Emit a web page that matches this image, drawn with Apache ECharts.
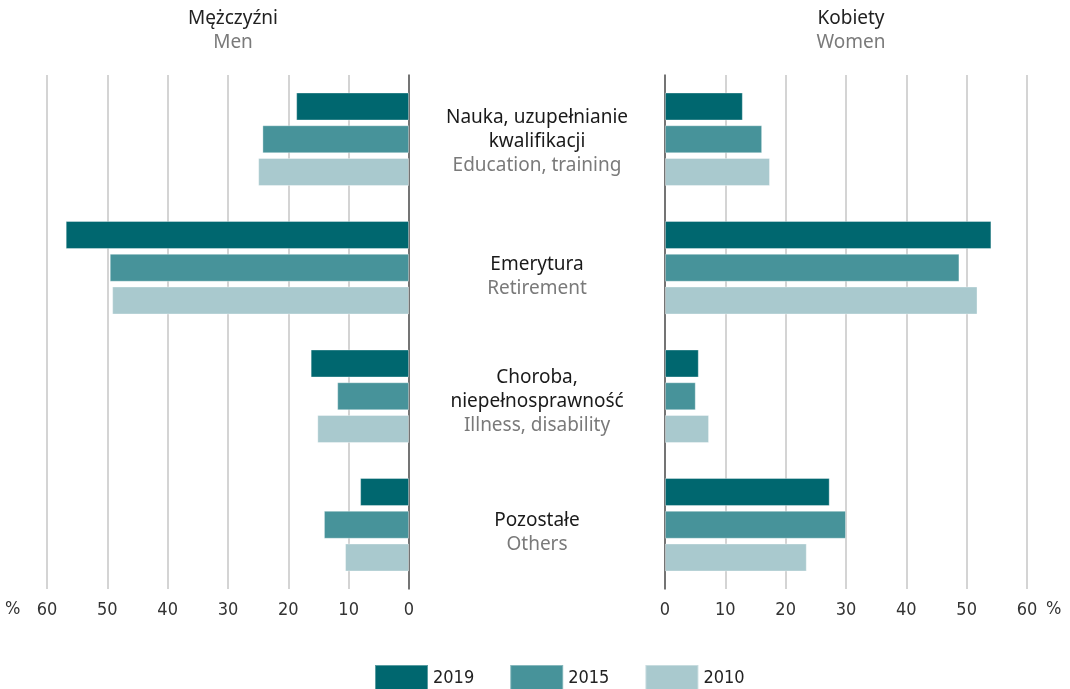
<!DOCTYPE html>
<html lang="pl">
<head>
    <meta charset="UTF-8">
    <title>Mężczyźni / Kobiety</title>
    <style>
        html, body { margin: 0; padding: 0; background: #fff; }
        #chart { width: 1070px; height: 689px; }
    </style>
</head>
<body>
    <div id="chart"></div>
    <script src="https://cdn.jsdelivr.net/npm/echarts@6/dist/echarts.min.js"></script>
    <script>
        // dane
        const catPl = ['Nauka, uzupełnianie\nkwalifikacji', 'Emerytura', 'Choroba,\nniepełnosprawność', 'Pozostałe'];
        const catEn = ['Education, training', 'Retirement', 'Illness, disability', 'Others'];
        const years = ['2019', '2015', '2010'];
        const men2019 = [18.7, 56.9, 16.3, 8.1];
        const men2015 = [24.3, 49.6, 11.9, 14.1];
        const men2010 = [25.0, 49.2, 15.2, 10.6];
        const women2019 = [12.9, 54.1, 5.6, 27.3];
        const women2015 = [16.1, 48.8, 5.1, 30.0];
        const women2010 = [17.4, 51.8, 7.3, 23.5];
        const xTicks = [0, 10, 20, 30, 40, 50, 60];

        const colors = ['#00676f', '#47939a', '#a9c9ce'];
        const numFont = "'Liberation Sans Narrow', 'DejaVu Sans Condensed', sans-serif";
        const txtFont = "'Noto Sans', 'Open Sans', sans-serif";
        const labelShift = [2, 9, 5, 8];

        const chart = echarts.init(document.getElementById('chart'));

        const xAxisBase = {
            type: 'value',
            min: 0,
            max: 60,
            interval: 10,
            axisLine: { show: false },
            axisTick: { show: false },
            splitLine: { lineStyle: { color: '#c6c6c6', width: 1.5 } },
            axisLabel: {
                margin: 12,
                fontSize: 18,
                color: '#333',
                fontFamily: numFont,
                formatter: v => xTicks.indexOf(v) >= 0 ? String(v) : ''
            }
        };

        const yData = catPl.map((c, i) => ({
            value: c,
            textStyle: { align: 'center', padding: [labelShift[i] * 2, 0, 0, 0] }
        }));

        const men = [men2019, men2015, men2010];
        const women = [women2019, women2015, women2010];
        const series = [];
        years.forEach((y, k) => {
            const common = {
                name: y,
                type: 'bar',
                barWidth: 28,
                barGap: '17%',
                itemStyle: { color: colors[k], borderColor: 'rgba(255,255,255,0.35)', borderWidth: 1 }
            };
            series.push(Object.assign({}, common, { xAxisIndex: 0, yAxisIndex: 0, data: men[k] }));
            series.push(Object.assign({}, common, { xAxisIndex: 1, yAxisIndex: 1, data: women[k] }));
        });

        chart.setOption({
            animation: false,
            title: [
                {
                    text: 'Mężczyźni', subtext: 'Men', left: 228, top: 4, textAlign: 'center', itemGap: 5,
                    textStyle: { fontSize: 19, fontWeight: 'normal', color: '#222', fontFamily: txtFont },
                    subtextStyle: { fontSize: 19, color: '#7a7a7a', fontFamily: txtFont }
                },
                {
                    text: 'Kobiety', subtext: 'Women', left: 846, top: 4, textAlign: 'center', itemGap: 5,
                    textStyle: { fontSize: 19, fontWeight: 'normal', color: '#222', fontFamily: txtFont },
                    subtextStyle: { fontSize: 19, color: '#7a7a7a', fontFamily: txtFont }
                }
            ],
            legend: {
                data: years,
                left: 369,
                top: 659,
                itemWidth: 53,
                itemHeight: 26,
                itemGap: 35,
                icon: 'rect',
                textStyle: { fontSize: 18, color: '#222', fontFamily: numFont }
            },
            graphic: [
                { type: 'text', left: 5, top: 600, style: { text: '%', fontSize: 18, fill: '#333', fontFamily: numFont } },
                { type: 'text', left: 1046, top: 600, style: { text: '%', fontSize: 18, fill: '#333', fontFamily: numFont } }
            ],
            grid: [
                { left: 47, right: 661, top: 75, bottom: 100 },
                { left: 665, right: 43, top: 75, bottom: 100 }
            ],
            xAxis: [
                Object.assign({}, xAxisBase, { gridIndex: 0, inverse: true }),
                Object.assign({}, xAxisBase, { gridIndex: 1 })
            ],
            yAxis: [
                {
                    type: 'category', gridIndex: 0, inverse: true, position: 'right',
                    data: yData,
                    axisLine: { lineStyle: { color: '#555', width: 1.5 } },
                    axisTick: { show: false },
                    axisLabel: { show: false }
                },
                {
                    type: 'category', gridIndex: 1, inverse: true, position: 'left',
                    data: yData,
                    axisLine: { lineStyle: { color: '#555', width: 1.5 } },
                    axisTick: { show: false },
                    axisLabel: {
                        margin: 128,
                        align: 'center',
                        formatter: (v, i) => v.split('\n').map(s => '{pl|' + s + '}').join('\n') + '\n{en|' + catEn[i] + '}',
                        rich: {
                            pl: { fontSize: 19, lineHeight: 24, color: '#1a1a1a', fontFamily: txtFont, align: 'center' },
                            en: { fontSize: 19, lineHeight: 24, color: '#7a7a7a', fontFamily: txtFont, align: 'center' }
                        }
                    }
                }
            ],
            series: series
        });

        window.addEventListener('resize', function() {
            chart.resize();
        });
    </script>
</body>
</html>
